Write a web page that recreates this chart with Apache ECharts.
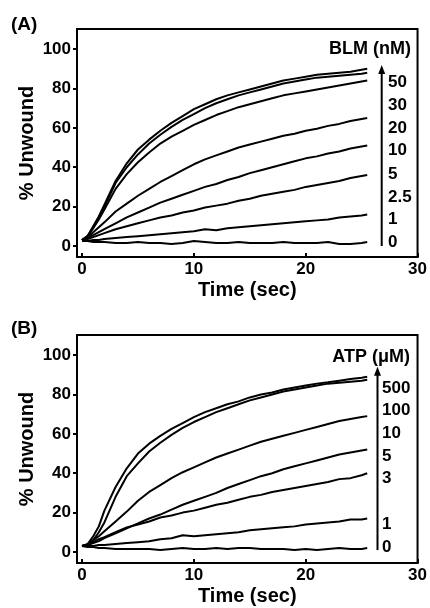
<!DOCTYPE html>
<html>
<head>
<meta charset="utf-8">
<script src="https://cdn.jsdelivr.net/npm/echarts@6/dist/echarts.min.js"></script>
<style>
html,body{margin:0;padding:0;background:#fff;}
#chart{width:430px;height:608px;}
</style>
</head>
<body>
<div id="chart"></div>
<script>
// Time points (sec)
const timeSec = [0,0.5,1,1.5,2,3,4,5,6,7,8,9,10,11,12,13,14,15,16,17,18,19,20,21,22,23,24,25,25.5];

// Panel A: BLM (nM) series, % unwound
const blm50  = [3,5,10,15,21,33,42,49,54,58.5,62.5,66,69.5,72,74.5,76.5,78,79.5,81,82.5,84,85,86,87,87.5,88,88.5,89.5,90];
const blm30  = [3,5,9.5,14.5,20,32,40,46.5,52,56.5,60.5,64,67,70,72.5,74.5,76.5,78,79.5,81,82.5,83.5,84.5,85.5,86,86.5,87,87.5,88];
const blm20  = [3,5,9,13.5,18.5,29,36.5,42.5,47.5,52,55.5,58.5,61.5,64,66.5,68.5,70.5,72,73.5,75,76.5,77.5,78.5,79.5,80.5,81.5,82.5,83.5,84];
const blm10  = [3,4.5,7,9.5,12,17.5,21.5,25.5,29,32.5,35.5,38.5,41.5,44,46,48,50,51.5,53,54.5,56,57,58.5,59.5,61,62,63.5,64.5,65];
const blm5   = [3,4,5.5,7,8.5,11.5,14.5,17,19.5,22,24,26,28,30,31.5,33.5,35,37,38.5,40,41.5,43,44.5,45.5,47,48,49.5,50.5,51];
const blm2_5 = [3,3.5,4.5,5.5,6.5,8.5,10,11.5,13,14.5,15.5,17,18,19.5,20.5,21.5,23,24,25.5,26.5,27.5,28.5,30,31,32,33,34.5,35.5,36];
const blm1   = [2.5,2.5,3,3,3.5,4,4.5,5,5.5,6,6.5,7,7.5,8.5,8,9,9.5,10,10.5,11,11.5,12,12.5,13,13.5,14.5,15,15.5,16];
const blm0   = [3,2.5,2,2,2,1.5,1.5,2,1.5,1.5,1,1.5,2.5,2,1.5,1.5,2,1.5,1.5,1.5,2,1.5,1.5,1.5,2,1,1,1.5,2];

// Panel B: ATP (uM) series, % unwound
const atp500 = [3,4,8,13,21,33,42.5,50,55,59,62.5,65.5,68.5,71,73,75,76.5,78.5,80,81,82.5,83.5,84.5,85.5,86.2,87,87.8,88.5,89];
const atp100 = [3,3.5,6,10,15,28,38.5,45,51,55.5,59.5,63,66,68.5,71,73,75,77,78.5,80,81.5,82.5,83.5,84.5,85.5,86,86.5,87,87.5];
const atp10  = [3,4,6,8,10.5,15.5,20.5,26,30.5,34,37.5,40.5,43,45.5,48,50,52,54,56,57.5,59,60.5,62,63.5,65,66.5,67.5,68.5,69];
const atp5   = [3,3.5,4.5,5.5,7,9.5,12,14.5,17,19,21.5,24,26,28,30,32.5,34.5,36.5,38.5,40,42,43.5,45,46.5,48,49.5,50.5,51.5,52];
const atp3   = [3,3.5,5,6.5,7.5,10,12.5,14,15.5,17.5,18.5,20,21,22.5,24,25,26.5,28,29,30.5,31.5,32.5,33.5,34.5,35.5,37,37.5,39,40];
const atp1   = [3,3,3,3.5,3.5,4,4.5,5,5.5,6.5,7,8.5,8,8.5,9,9.5,10,11,11.5,12,12.5,13,14,14.5,15,15.5,16.5,16.5,17];
const atp0   = [3,2.5,2.5,2,2,1.5,1.5,1.5,1.5,1,1.5,2,1.5,1.5,2,1.5,2,2,1.5,1.5,1.5,1,1.5,1,1.5,2,1.5,1.5,2];

// Legend labels and tick labels
const blmLabels = ['50','30','20','10','5','2.5','1','0'];
const atpLabels = ['500','100','10','5','3','1','0'];
const xTicks = [0,10,20,30];
const yTicks = [0,20,40,60,80,100];

const blmSeries = [blm50,blm30,blm20,blm10,blm5,blm2_5,blm1,blm0];
const atpSeries = [atp500,atp100,atp10,atp5,atp3,atp1,atp0];

const FONT = '"Liberation Sans", Arial, Helvetica, sans-serif';

function toPairs(arr){ return timeSec.map((t,i)=>[t, arr[i]]); }

function mkX(idx){
  return {
    gridIndex: idx, type:'value', min:-0.45, max:30,
    name:'Time (sec)', nameLocation:'middle', nameGap:23, nameMoveOverlap:false,
    nameTextStyle:{fontFamily:FONT, fontWeight:'bold', fontSize:20, color:'#000'},
    axisLine:{show:true, onZero:false, lineStyle:{color:'#000', width:2}},
    axisTick:{show:true, inside:true, length:4, lineStyle:{color:'#000', width:2}, customValues:xTicks},
    axisLabel:{customValues:xTicks, margin:4, fontFamily:FONT, fontWeight:'bold', fontSize:17, color:'#000'},
    splitLine:{show:false}
  };
}
function mkY(idx){
  return {
    gridIndex: idx, type:'value', min:-5.6, max:110.2,
    name:'% Unwound', nameLocation:'middle', nameGap:40, nameRotate:90, nameMoveOverlap:false,
    nameTextStyle:{fontFamily:FONT, fontWeight:'bold', fontSize:20, color:'#000'},
    axisLine:{show:true, onZero:false, lineStyle:{color:'#000', width:2}},
    axisTick:{show:true, inside:false, length:4, lineStyle:{color:'#000', width:2}, customValues:yTicks},
    axisLabel:{customValues:yTicks, margin:6, fontFamily:FONT, fontWeight:'bold', fontSize:17, color:'#000'},
    splitLine:{show:false}
  };
}

const series = [];
blmSeries.forEach((arr,k)=>series.push({
  type:'line', xAxisIndex:0, yAxisIndex:0, data:toPairs(arr), name:'BLM '+blmLabels[k],
  showSymbol:false, symbol:'none', lineStyle:{color:'#000', width:2}, silent:true, animation:false
}));
atpSeries.forEach((arr,k)=>series.push({
  type:'line', xAxisIndex:1, yAxisIndex:1, data:toPairs(arr), name:'ATP '+atpLabels[k],
  showSymbol:false, symbol:'none', lineStyle:{color:'#000', width:2}, silent:true, animation:false
}));

function txt(s, x, y, size, align){
  return {type:'text', x:x, y:y, silent:true,
    style:{text:s, fill:'#000', font:'bold '+size+'px '+FONT, textAlign:align||'left', textVerticalAlign:'middle'}};
}
function arrow(x, yTop, yBot){
  return [
    {type:'line', silent:true, shape:{x1:x, y1:yBot, x2:x, y2:yTop+6}, style:{stroke:'#000', lineWidth:2}},
    {type:'polygon', silent:true, shape:{points:[[x-3.5,yTop+9],[x,yTop],[x+3.5,yTop+9]]}, style:{fill:'#000'}}
  ];
}

const blmY = [82.5,105.8,128.3,150.8,174,197.4,219.7,242];
const atpY = [388.3,410.3,433,456.3,478.7,524.5,547.8];

const graphic = [];
graphic.push(txt('(A)', 11, 24.5, 19));
graphic.push(txt('(B)', 11, 329, 19));
graphic.push(txt('BLM (nM)', 411, 48.7, 18, 'right'));
graphic.push(txt('ATP (\u03bcM)', 410, 357.5, 18, 'right'));
arrow(381.7, 65, 246).forEach(g=>graphic.push(g));
arrow(377.5, 366.7, 550).forEach(g=>graphic.push(g));
blmLabels.forEach((s,i)=>graphic.push(txt(s, 388, blmY[i], 17)));
atpLabels.forEach((s,i)=>graphic.push(txt(s, 382, atpY[i], 17)));

const option = {
  backgroundColor:'#fff',
  animation:false,
  grid:[
    {left:77, top:29, width:341, height:228, show:true, borderColor:'#000', borderWidth:2, backgroundColor:'transparent'},
    {left:77, top:335, width:341, height:228, show:true, borderColor:'#000', borderWidth:2, backgroundColor:'transparent'}
  ],
  xAxis:[mkX(0), mkX(1)],
  yAxis:[mkY(0), mkY(1)],
  series: series,
  graphic: graphic
};

const chart = echarts.init(document.getElementById('chart'), null, {renderer:'canvas'});
chart.setOption(option);
</script>
</body>
</html>
